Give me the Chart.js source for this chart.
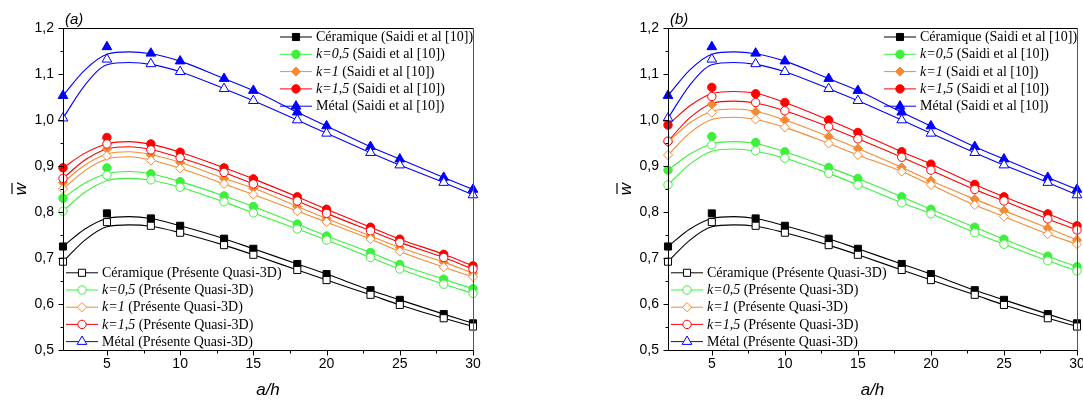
<!DOCTYPE html>
<html>
<head>
<meta charset="utf-8">
<script src="https://cdn.jsdelivr.net/npm/chart.js@4.4.1/dist/chart.umd.min.js"></script>
<style>
  html, body { margin: 0; padding: 0; background: #fff; }
  #wrap { position: relative; width: 1083px; height: 403px; overflow: hidden; }
  canvas { position: absolute; top: 0; }
  #chartA { left: 0; }
  #chartB { left: 541px; }
</style>
</head>
<body>
<div id="wrap">
  <canvas id="chartA" width="541" height="403"></canvas>
  <canvas id="chartB" width="560" height="403"></canvas>
</div>
<script>
// a/h where the symbols sit
const ratios = [2, 5, 8, 10, 13, 15, 18, 20, 23, 25, 28, 30];
// a/h where the fitted curves are sampled
const fitRatios = [2, 3.5, 5, 6.5, 8, 10, 13, 15, 18, 20, 23, 25, 28, 30];

const xTicks = [5, 10, 15, 20, 25, 30];
const xMinorTicks = [7.5, 12.5, 17.5, 22.5, 27.5];
const yTicks = [0.5, 0.6, 0.7, 0.8, 0.9, 1.0, 1.1, 1.2];
const yMinorTicks = [0.55, 0.65, 0.75, 0.85, 0.95, 1.05, 1.15];

// ceramic and metal plates (same in both panels)
const ceramicSaidi   = [0.725, 0.797, 0.786, 0.770, 0.742, 0.720, 0.687, 0.665, 0.630, 0.609, 0.578, 0.558];
const ceramicPresent = [0.692, 0.778, 0.770, 0.755, 0.728, 0.707, 0.674, 0.652, 0.620, 0.598, 0.569, 0.551];
const metalSaidi     = [1.053, 1.159, 1.145, 1.128, 1.090, 1.064, 1.017, 0.987, 0.942, 0.915, 0.875, 0.849];
const metalPresent   = [1.004, 1.132, 1.122, 1.105, 1.068, 1.042, 1.000, 0.971, 0.929, 0.902, 0.864, 0.837];

const ceramicSaidiFit   = [0.725, 0.763, 0.786, 0.790, 0.786, 0.770, 0.742, 0.720, 0.687, 0.665, 0.630, 0.609, 0.578, 0.558];
const ceramicPresentFit = [0.692, 0.739, 0.768, 0.772, 0.769, 0.755, 0.728, 0.707, 0.674, 0.652, 0.620, 0.598, 0.569, 0.551];
const metalSaidiFit     = [1.053, 1.109, 1.143, 1.148, 1.144, 1.128, 1.090, 1.064, 1.017, 0.987, 0.942, 0.915, 0.875, 0.849];
const metalPresentFit   = [1.004, 1.076, 1.120, 1.125, 1.121, 1.105, 1.068, 1.042, 1.000, 0.971, 0.929, 0.902, 0.864, 0.837];

// panel (a)
const k05SaidiA   = [0.830, 0.896, 0.883, 0.866, 0.835, 0.812, 0.774, 0.748, 0.712, 0.686, 0.654, 0.633];
const k05PresentA = [0.802, 0.880, 0.870, 0.854, 0.822, 0.798, 0.763, 0.739, 0.701, 0.676, 0.643, 0.623];
const k1SaidiA    = [0.864, 0.937, 0.924, 0.908, 0.873, 0.852, 0.812, 0.786, 0.748, 0.723, 0.691, 0.667];
const k1PresentA  = [0.850, 0.922, 0.912, 0.895, 0.861, 0.838, 0.802, 0.778, 0.741, 0.714, 0.680, 0.659];
const k15SaidiA   = [0.896, 0.962, 0.948, 0.930, 0.896, 0.872, 0.833, 0.806, 0.767, 0.741, 0.708, 0.683];
const k15PresentA = [0.873, 0.948, 0.935, 0.918, 0.886, 0.861, 0.824, 0.797, 0.759, 0.734, 0.701, 0.676];

const k05SaidiFitA   = [0.830, 0.863, 0.883, 0.888, 0.883, 0.866, 0.835, 0.812, 0.774, 0.748, 0.712, 0.686, 0.654, 0.633];
const k05PresentFitA = [0.802, 0.843, 0.868, 0.873, 0.869, 0.854, 0.822, 0.798, 0.763, 0.739, 0.701, 0.676, 0.643, 0.623];
const k1SaidiFitA    = [0.864, 0.902, 0.926, 0.931, 0.925, 0.908, 0.873, 0.852, 0.812, 0.786, 0.748, 0.723, 0.691, 0.667];
const k1PresentFitA  = [0.850, 0.890, 0.915, 0.920, 0.913, 0.895, 0.861, 0.838, 0.802, 0.778, 0.741, 0.714, 0.680, 0.659];
const k15SaidiFitA   = [0.896, 0.928, 0.948, 0.953, 0.947, 0.930, 0.896, 0.872, 0.833, 0.806, 0.767, 0.741, 0.708, 0.683];
const k15PresentFitA = [0.873, 0.913, 0.937, 0.942, 0.936, 0.918, 0.886, 0.861, 0.824, 0.797, 0.759, 0.734, 0.701, 0.676];

// panel (b)
const k05SaidiB   = [0.891, 0.964, 0.951, 0.931, 0.897, 0.873, 0.833, 0.806, 0.767, 0.741, 0.704, 0.681];
const k05PresentB = [0.859, 0.946, 0.933, 0.917, 0.884, 0.859, 0.820, 0.796, 0.755, 0.730, 0.694, 0.672];
const k1SaidiB    = [0.952, 1.034, 1.018, 1.000, 0.964, 0.938, 0.897, 0.868, 0.828, 0.803, 0.765, 0.739];
const k1PresentB  = [0.924, 1.016, 1.001, 0.984, 0.949, 0.924, 0.888, 0.859, 0.815, 0.790, 0.752, 0.730];
const k15SaidiB   = [0.989, 1.071, 1.057, 1.038, 1.000, 0.973, 0.931, 0.904, 0.860, 0.833, 0.796, 0.770];
const k15PresentB = [0.954, 1.051, 1.038, 1.020, 0.985, 0.959, 0.919, 0.891, 0.849, 0.824, 0.785, 0.761];

const k05SaidiFitB   = [0.891, 0.926, 0.948, 0.953, 0.949, 0.931, 0.897, 0.873, 0.833, 0.806, 0.767, 0.741, 0.704, 0.681];
const k05PresentFitB = [0.859, 0.904, 0.932, 0.937, 0.932, 0.917, 0.884, 0.859, 0.820, 0.796, 0.755, 0.730, 0.694, 0.672];
const k1SaidiFitB    = [0.952, 0.994, 1.019, 1.024, 1.019, 1.000, 0.964, 0.938, 0.897, 0.868, 0.828, 0.803, 0.765, 0.739];
const k1PresentFitB  = [0.924, 0.972, 1.001, 1.006, 1.001, 0.984, 0.949, 0.924, 0.888, 0.859, 0.815, 0.790, 0.752, 0.730];
const k15SaidiFitB   = [0.989, 1.031, 1.057, 1.062, 1.058, 1.038, 1.000, 0.973, 0.931, 0.904, 0.860, 0.833, 0.796, 0.770];
const k15PresentFitB = [0.954, 1.005, 1.036, 1.041, 1.037, 1.020, 0.985, 0.959, 0.919, 0.891, 0.849, 0.824, 0.785, 0.761];

const seriesNames = ['Céramique', 'k=0,5', 'k=1', 'k=1,5', 'Métal'];
const italicName  = [false, true, true, true, false];
const saidiTag    = ' (Saidi et al [10])';
const presentTag  = ' (Présente Quasi-3D)';

const colors  = ['#000000', '#3cf03c', '#f48a33', '#ff0000', '#0000ff'];
const shapes  = ['rect', 'circle', 'rectRot', 'circle', 'triangle'];
const sizes   = [5, 4.2, 4.6, 4.2, 5.6];

const SANS = '"Liberation Sans", Arial, sans-serif';
const SERIF = '"Liberation Serif", "Times New Roman", serif';

function pts(xs, ys) { return xs.map((x, i) => ({ x: x, y: ys[i] })); }

function drawMarker(ctx, shape, x, y, r, fill, stroke) {
  ctx.beginPath();
  if (shape === 'rect') {
    const s = r * Math.SQRT1_2;
    ctx.rect(x - s, y - s, 2 * s, 2 * s);
  } else if (shape === 'circle') {
    ctx.arc(x, y, r, 0, Math.PI * 2);
  } else if (shape === 'rectRot') {
    ctx.moveTo(x - r, y); ctx.lineTo(x, y - r); ctx.lineTo(x + r, y); ctx.lineTo(x, y + r);
    ctx.closePath();
  } else {
    ctx.moveTo(x, y - r);
    ctx.lineTo(x + r * 0.866, y + r * 0.5);
    ctx.lineTo(x - r * 0.866, y + r * 0.5);
    ctx.closePath();
  }
  ctx.fillStyle = fill; ctx.fill();
  ctx.lineWidth = 1; ctx.strokeStyle = stroke; ctx.stroke();
}

function drawLegend(ctx, x0, y0, step, tag, filled) {
  ctx.textBaseline = 'middle';
  ctx.textAlign = 'left';
  for (let i = 0; i < seriesNames.length; i++) {
    const y = y0 + i * step;
    ctx.strokeStyle = colors[i];
    ctx.lineWidth = 1;
    ctx.beginPath(); ctx.moveTo(x0, y + 0.5); ctx.lineTo(x0 + 32, y + 0.5); ctx.stroke();
    drawMarker(ctx, shapes[i], x0 + 16, y + 0.5, sizes[i], filled ? colors[i] : '#fff', colors[i]);
    let tx = x0 + 36;
    ctx.fillStyle = '#000';
    ctx.font = (italicName[i] ? 'italic ' : '') + '14px ' + SERIF;
    ctx.fillText(seriesNames[i], tx, y + 1);
    tx += ctx.measureText(seriesNames[i]).width;
    ctx.font = '14px ' + SERIF;
    ctx.fillText(tag, tx, y + 1);
  }
}

// box, ticks, titles and legends
const decor = {
  id: 'decor',
  afterDraw(chart, args, opts) {
    const { ctx, chartArea: a, scales } = chart;
    const L = Math.round(a.left) + 0.5, R = Math.round(a.right) + 0.5;
    const T = Math.round(a.top) + 0.5, B = Math.round(a.bottom) + 0.5;
    ctx.save();
    ctx.lineWidth = 1;
    ctx.strokeStyle = '#000';
    ctx.beginPath();
    ctx.moveTo(L, T); ctx.lineTo(R, T);
    ctx.moveTo(L, T); ctx.lineTo(L, B); ctx.lineTo(R, B);
    ctx.stroke();
    ctx.strokeStyle = '#555';
    ctx.beginPath(); ctx.moveTo(R, T); ctx.lineTo(R, B); ctx.stroke();

    ctx.strokeStyle = '#000';
    ctx.beginPath();
    yTicks.forEach(v => { const p = Math.round(scales.y.getPixelForValue(v)) + 0.5; ctx.moveTo(L - 5, p); ctx.lineTo(L, p); });
    yMinorTicks.forEach(v => { const p = Math.round(scales.y.getPixelForValue(v)) + 0.5; ctx.moveTo(L - 3, p); ctx.lineTo(L, p); });
    xTicks.forEach(v => { const p = Math.round(scales.x.getPixelForValue(v)) + 0.5; ctx.moveTo(p, B); ctx.lineTo(p, B + 5); });
    xMinorTicks.forEach(v => { const p = Math.round(scales.x.getPixelForValue(v)) + 0.5; ctx.moveTo(p, B); ctx.lineTo(p, B + 3); });
    ctx.stroke();

    // panel tag
    ctx.fillStyle = '#000';
    ctx.font = 'italic 15px ' + SANS;
    ctx.textAlign = 'left';
    ctx.textBaseline = 'alphabetic';
    ctx.fillText(opts.tag, a.left + 2, 24);

    // x title
    ctx.font = 'italic 17px ' + SANS;
    ctx.textAlign = 'center';
    ctx.textBaseline = 'middle';
    ctx.fillText('a/h', (a.left + a.right) / 2, 390);

    // y title: w with a bar over it
    ctx.save();
    ctx.translate(a.left - 42, (a.top + a.bottom) / 2);
    ctx.rotate(-Math.PI / 2);
    ctx.font = 'italic 17px ' + SANS;
    ctx.fillText('w', 0, 0);
    ctx.lineWidth = 1.2;
    ctx.beginPath(); ctx.moveTo(-5, -9); ctx.lineTo(6, -9); ctx.stroke();
    ctx.restore();

    drawLegend(ctx, a.right - 193, 36.5, 17.3, saidiTag, true);
    drawLegend(ctx, a.left + 3, 272.3, 17.2, presentTag, false);
    ctx.restore();
  }
};

function buildPanel(canvasId, tag, leftWidth, rightPad, saidi, present, saidiFit, presentFit) {
  const datasets = [];
  // open symbols on top, then filled symbols, then the curves
  present.forEach((vals, i) => datasets.push({
    data: pts(ratios, vals), showLine: false, clip: false,
    pointStyle: shapes[i], pointRadius: sizes[i], pointBorderWidth: 1,
    pointBackgroundColor: '#fff', pointBorderColor: colors[i]
  }));
  saidi.forEach((vals, i) => datasets.push({
    data: pts(ratios, vals), showLine: false, clip: false,
    pointStyle: shapes[i], pointRadius: sizes[i], pointBorderWidth: 1,
    pointBackgroundColor: colors[i], pointBorderColor: colors[i]
  }));
  saidiFit.concat(presentFit).forEach((vals, j) => datasets.push({
    data: pts(fitRatios, vals), showLine: true, pointRadius: 0,
    borderColor: colors[j % 5], borderWidth: 1.1, cubicInterpolationMode: 'monotone'
  }));

  return new Chart(document.getElementById(canvasId), {
    type: 'scatter',
    data: { datasets },
    options: {
      responsive: false,
      animation: false,
      events: [],
      layout: { padding: { left: 0, right: rightPad, top: 28, bottom: 0 } },
      plugins: { legend: { display: false }, tooltip: { enabled: false }, decor: { tag } },
      scales: {
        x: {
          type: 'linear', min: 2, max: 30,
          grid: { display: false, drawTicks: false }, border: { display: false },
          ticks: { font: { family: SANS, size: 14 }, color: '#000', padding: 6, maxRotation: 0, autoSkip: false },
          afterBuildTicks: s => { s.ticks = xTicks.map(v => ({ value: v })); },
          afterFit: s => { s.height = 53; }
        },
        y: {
          type: 'linear', min: 0.5, max: 1.2,
          grid: { display: false, drawTicks: false }, border: { display: false },
          ticks: {
            font: { family: SANS, size: 14 }, color: '#000', padding: 9,
            callback: v => v.toFixed(1).replace('.', ',')
          },
          afterBuildTicks: s => { s.ticks = yTicks.map(v => ({ value: v })); },
          afterFit: s => { s.width = leftWidth; }
        }
      }
    },
    plugins: [decor]
  });
}

buildPanel('chartA', '(a)', 63, 68,
  [ceramicSaidi, k05SaidiA, k1SaidiA, k15SaidiA, metalSaidi],
  [ceramicPresent, k05PresentA, k1PresentA, k15PresentA, metalPresent],
  [ceramicSaidiFit, k05SaidiFitA, k1SaidiFitA, k15SaidiFitA, metalSaidiFit],
  [ceramicPresentFit, k05PresentFitA, k1PresentFitA, k15PresentFitA, metalPresentFit]);

buildPanel('chartB', '(b)', 127, 24,
  [ceramicSaidi, k05SaidiB, k1SaidiB, k15SaidiB, metalSaidi],
  [ceramicPresent, k05PresentB, k1PresentB, k15PresentB, metalPresent],
  [ceramicSaidiFit, k05SaidiFitB, k1SaidiFitB, k15SaidiFitB, metalSaidiFit],
  [ceramicPresentFit, k05PresentFitB, k1PresentFitB, k15PresentFitB, metalPresentFit]);
</script>
</body>
</html>
